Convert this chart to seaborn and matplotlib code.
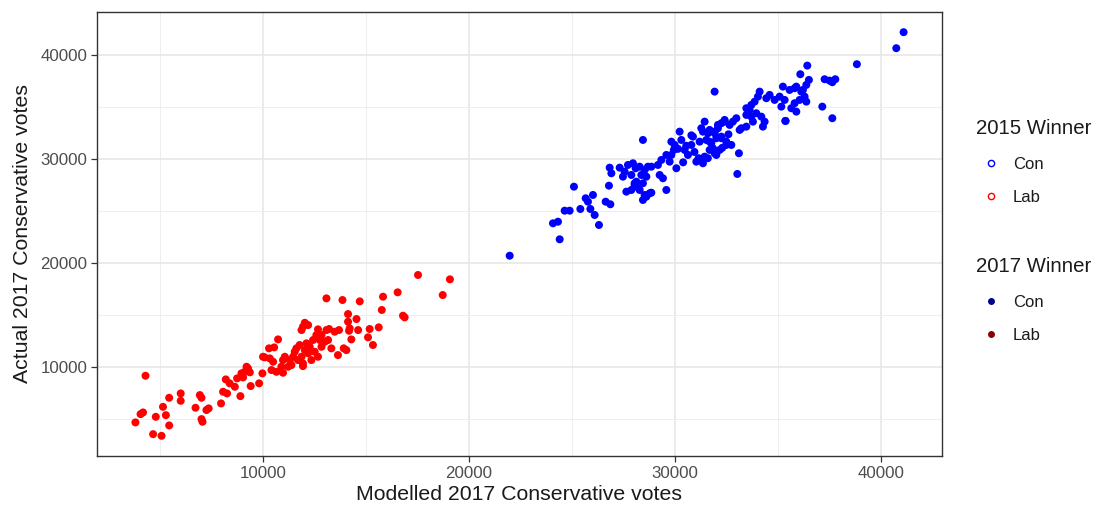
import matplotlib
matplotlib.use("Agg")
import matplotlib.pyplot as plt
from matplotlib.lines import Line2D
from matplotlib.ticker import MultipleLocator
import pandas as pd
import seaborn as sns

# Seats held by the Conservatives in 2015: modelled vs actual 2017 Conservative vote
con_x = [41110, 40755, 38841, 36432, 36092, 36510, 37273, 37515, 37792, 37647,
         37161, 37647, 31930, 35364, 28447, 33110, 33032, 29584, 25096, 21973,
         24402, 24076, 24319, 26310, 24644, 24887, 25407, 25893, 26102, 25664,
         26019, 25776, 26636, 26864, 26796, 28127, 28044, 28613, 28855,
         33470, 34276, 35170, 35330, 36219, 36384, 35815, 33144,
         26830, 26913, 27316, 27559, 27476, 27719, 27962, 28093, 27884, 28127,
         28287, 28530, 28690, 28855, 28370, 28613, 28447, 28044, 27884, 27641,
         28287, 28530, 28773, 28447, 29259, 29419, 29176, 29341, 29584,
         29744, 29827, 29987, 29827, 30070, 30230, 30312, 30473, 30633, 30798,
         30876, 31041, 31362, 31201, 31284, 31605, 31687, 31847, 32012, 31930,
         32090, 32255, 32416, 32498,
         35247, 35573, 35898, 36141, 36301, 36384, 36058, 35815, 35655, 35898,
         35378, 35087, 34844, 34601, 34441, 34116, 34033, 33873, 33712, 33630,
         33470, 33712, 33955, 34198, 34358, 33790, 33470, 33227, 32984, 32819,
         32658, 32416, 32255, 32090, 31930, 31687, 31444, 31362, 31527, 31770,
         32012, 32255, 32498, 32741, 32173, 31930, 31687, 31444, 31284,
         30150, 30550, 30950, 31150, 29950, 30400, 30800, 31600, 32300, 32600]
con_y = [42228, 40687, 39146, 39011, 38183, 37634, 37701, 37567, 37701, 37413,
         35063, 33946, 36507, 33686, 31856, 30575, 28582, 27041, 27359, 20714,
         22293, 23834, 23988, 23671, 25048, 25048, 25211, 25211, 24634, 26242,
         26560, 25914, 25914, 25664, 27455, 27359, 27686, 26396, 26781,
         34909, 33137, 35063, 35708, 36671, 37153, 36835, 32819,
         29189, 28649, 29189, 28803, 28322, 29449, 29612, 29131, 28485, 27840,
         29285, 28967, 29285, 29285, 28485, 28322, 27686, 27523, 27041, 26877,
         27041, 26560, 26723, 26078, 28485, 28168, 29449, 29930, 30412,
         29766, 31692, 31375, 30412, 29131, 32655, 31856, 30893, 30412, 31375,
         32174, 29766, 29612, 31692, 32983, 32501, 31692, 31057, 30412, 32655,
         33301, 32020, 33618, 31375,
         36989, 36671, 36989, 36507, 36026, 35544, 35708, 35390, 34909, 34581,
         33686, 36026, 35708, 36190, 35872, 36507, 36026, 35544, 35227, 34745,
         34264, 34100, 34427, 34100, 33618, 33618, 33137, 32983, 33946, 33618,
         33301, 33782, 33464, 32983, 32501, 32819, 33618, 32655, 31856, 31538,
         32020, 32174, 31692, 31375, 30893, 30575, 30893, 30248, 29930,
         31000, 31300, 30700, 30100, 30900, 29700, 32300, 30100, 31100, 32400]

# Seats held by Labour in 2015
lab_x = [3790, 4040, 4160, 4280, 4650, 4780, 5060, 5130, 5270, 5430,
         5430, 5990, 5990, 6710, 6920, 7000, 7000, 7050, 7240, 7350,
         7950, 8050, 8240, 8180, 8370, 8620, 8890, 8730, 8940, 9100,
         9260, 9020, 9350, 9190, 9390, 9800, 9960, 10070, 10320, 10480,
         10280, 10530, 10720, 10400, 10640, 10960, 9990,
         13070, 13850, 14690, 15820, 16530, 17520, 19070, 18720, 15760, 16790,
         16870, 14120, 14530, 14120, 14200, 14170, 14610, 15170, 15610, 15090,
         15330, 14280, 13680, 13200, 12660, 12020, 11930, 11860, 12180, 12830,
         13150, 12990, 13310, 13910, 14040, 13630, 12340, 11930, 13070,
         11610, 11770, 11530, 12100, 12420, 12260, 12020, 12180, 11860, 11690,
         11450, 11290, 11050, 10960, 11210, 11370, 10880, 12580, 12750, 13470,
         12500, 12830, 12660, 11930]
lab_y = [4670, 5470, 5630, 9160, 3540, 5210, 3380, 6170, 5370, 7040,
         4380, 7460, 6750, 6080, 7300, 7040, 4990, 4730, 5860, 6020,
         6500, 7620, 7460, 8810, 8430, 8100, 7200, 8910, 9390, 9540,
         9870, 9000, 9490, 10030, 8170, 8430, 9390, 10930, 10830, 10510,
         11800, 11890, 12660, 9710, 9540, 9450, 10990,
         16610, 16450, 16320, 16770, 17190, 18860, 18440, 16930, 15490, 14940,
         14780, 15100, 14620, 14360, 13720, 13490, 13560, 13660, 13820, 12860,
         12120, 12660, 13560, 13660, 13630, 14260, 13880, 13560, 14040, 13080,
         12600, 12430, 11800, 11800, 11630, 11150, 10670, 10090, 13560,
         11800, 12120, 11470, 12280, 12600, 11950, 11630, 11320, 10990, 10670,
         10990, 10670, 10990, 10670, 10030, 10190, 10030, 13080, 12600, 13400,
         11470, 11950, 10990, 10350]

parties = ["Con", "Lab"]
colours_2015 = {"Con": "#0000FF", "Lab": "#FF0000"}
colours_2017 = {"Con": "#00008B", "Lab": "#8B0000"}

votes = pd.DataFrame({
    "modelled": con_x + lab_x,
    "actual": con_y + lab_y,
    "winner_2015": ["Con"] * len(con_x) + ["Lab"] * len(lab_x),
})

sns.set_theme(style="whitegrid")
plt.rcParams["font.family"] = ["Liberation Sans", "DejaVu Sans"]

W, H = 1101, 514
fig = plt.figure(figsize=(W / 100, H / 100), dpi=100)
fig.patch.set_facecolor("white")
ax = fig.add_axes([97 / W, 1 - 456 / H, (942 - 97) / W, (456 - 12) / H])

sns.scatterplot(data=votes, x="modelled", y="actual", hue="winner_2015",
                palette=colours_2015, s=33, linewidth=0, legend=False,
                ax=ax, zorder=3)


def expanded(values, frac=0.05):
    lo, hi = min(values), max(values)
    pad = (hi - lo) * frac
    return lo - pad, hi + pad


ax.set_xlim(expanded(votes["modelled"]))
ax.set_ylim(expanded(votes["actual"]))

for axis in (ax.xaxis, ax.yaxis):
    axis.set_major_locator(MultipleLocator(10000))
    axis.set_minor_locator(MultipleLocator(5000))

ax.set_facecolor("white")
ax.grid(which="major", color="#E6E6E6", linewidth=1.1)
ax.grid(which="minor", color="#EBEBEB", linewidth=0.6)
ax.set_axisbelow(True)
for spine in ax.spines.values():
    spine.set_visible(True)
    spine.set_color("#333333")
    spine.set_linewidth(1.0)

ax.tick_params(which="major", length=4, width=0.9, color="#333333",
               labelsize=12.2, labelcolor="#4D4D4D", pad=3,
               bottom=True, left=True)
ax.tick_params(which="minor", length=0)

ax.set_xlabel("Modelled 2017 Conservative votes", fontsize=15.3,
              color="#1A1A1A", labelpad=3)
ax.set_ylabel("Actual 2017 Conservative votes", fontsize=15.3,
              color="#1A1A1A", labelpad=6)

# Two legends: outline colour for the 2015 winner, fill for the 2017 winner
h2015 = [Line2D([], [], linestyle="none", marker="o", markersize=4.5,
                markerfacecolor="none", markeredgecolor=colours_2015[p],
                markeredgewidth=1.0) for p in parties]
h2017 = [Line2D([], [], linestyle="none", marker="o", markersize=5,
                markerfacecolor=colours_2017[p], markeredgewidth=0)
         for p in parties]

legend_kw = dict(loc="upper left", frameon=False, fontsize=12,
                 title_fontsize=14.7, alignment="left", borderpad=0,
                 labelspacing=1.1, handlelength=1.7, handletextpad=0.5,
                 labelcolor="#1A1A1A")
leg1 = fig.legend(h2015, parties, title="2015 Winner",
                  bbox_to_anchor=(968 / W, 1 - 111 / H), **legend_kw)
leg2 = fig.legend(h2017, parties, title="2017 Winner",
                  bbox_to_anchor=(968 / W, 1 - 249 / H), **legend_kw)
for leg in (leg1, leg2):
    leg.get_title().set_color("#1A1A1A")

fig.savefig("out.png", dpi=100, facecolor="white")
